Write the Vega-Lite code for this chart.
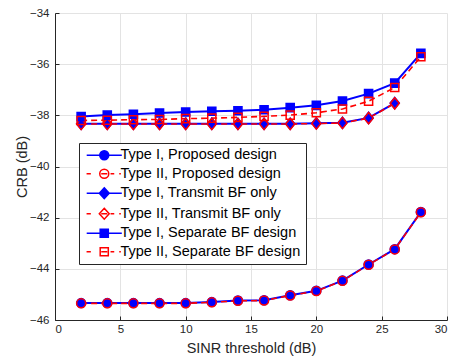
{
  "$schema": "https://vega.github.io/schema/vega-lite/v6.json",
  "width": 392,
  "height": 307,
  "autosize": {"type": "none"},
  "padding": {"left": 55, "top": 13, "right": 5, "bottom": 40},
  "background": "white",
  "config": {
    "view": {"stroke": null},
    "font": "Liberation Sans",
    "axis": {
      "domainColor": "#262626",
      "domainWidth": 1,
      "tickColor": "#262626",
      "tickSize": -4,
      "labelColor": "#262626",
      "labelFont": "Liberation Sans",
      "labelFontSize": 11.5,
      "titleColor": "#262626",
      "titleFont": "Liberation Sans",
      "titleFontSize": 14.5,
      "titleFontWeight": "normal",
      "gridColor": "#e3e3e3",
      "gridWidth": 1
    }
  },
  "data": {
    "values": [
      {"series": "Type I, Proposed design", "x": 2, "y": -45.34},
      {"series": "Type I, Proposed design", "x": 4, "y": -45.34},
      {"series": "Type I, Proposed design", "x": 6, "y": -45.34},
      {"series": "Type I, Proposed design", "x": 8, "y": -45.34},
      {"series": "Type I, Proposed design", "x": 10, "y": -45.34},
      {"series": "Type I, Proposed design", "x": 12, "y": -45.30},
      {"series": "Type I, Proposed design", "x": 14, "y": -45.24},
      {"series": "Type I, Proposed design", "x": 16, "y": -45.23},
      {"series": "Type I, Proposed design", "x": 18, "y": -45.03},
      {"series": "Type I, Proposed design", "x": 20, "y": -44.86},
      {"series": "Type I, Proposed design", "x": 22, "y": -44.46},
      {"series": "Type I, Proposed design", "x": 24, "y": -43.83},
      {"series": "Type I, Proposed design", "x": 26, "y": -43.23},
      {"series": "Type I, Proposed design", "x": 28, "y": -41.78},
      {"series": "Type II, Proposed design", "x": 2, "y": -45.35},
      {"series": "Type II, Proposed design", "x": 4, "y": -45.35},
      {"series": "Type II, Proposed design", "x": 6, "y": -45.35},
      {"series": "Type II, Proposed design", "x": 8, "y": -45.35},
      {"series": "Type II, Proposed design", "x": 10, "y": -45.35},
      {"series": "Type II, Proposed design", "x": 12, "y": -45.31},
      {"series": "Type II, Proposed design", "x": 14, "y": -45.25},
      {"series": "Type II, Proposed design", "x": 16, "y": -45.24},
      {"series": "Type II, Proposed design", "x": 18, "y": -45.04},
      {"series": "Type II, Proposed design", "x": 20, "y": -44.87},
      {"series": "Type II, Proposed design", "x": 22, "y": -44.47},
      {"series": "Type II, Proposed design", "x": 24, "y": -43.84},
      {"series": "Type II, Proposed design", "x": 26, "y": -43.24},
      {"series": "Type II, Proposed design", "x": 28, "y": -41.79},
      {"series": "Type I, Transmit BF only", "x": 2, "y": -38.33},
      {"series": "Type I, Transmit BF only", "x": 4, "y": -38.33},
      {"series": "Type I, Transmit BF only", "x": 6, "y": -38.33},
      {"series": "Type I, Transmit BF only", "x": 8, "y": -38.33},
      {"series": "Type I, Transmit BF only", "x": 10, "y": -38.33},
      {"series": "Type I, Transmit BF only", "x": 12, "y": -38.33},
      {"series": "Type I, Transmit BF only", "x": 14, "y": -38.33},
      {"series": "Type I, Transmit BF only", "x": 16, "y": -38.33},
      {"series": "Type I, Transmit BF only", "x": 18, "y": -38.33},
      {"series": "Type I, Transmit BF only", "x": 20, "y": -38.31},
      {"series": "Type I, Transmit BF only", "x": 22, "y": -38.29},
      {"series": "Type I, Transmit BF only", "x": 24, "y": -38.10},
      {"series": "Type I, Transmit BF only", "x": 26, "y": -37.52},
      {"series": "Type II, Transmit BF only", "x": 2, "y": -38.34},
      {"series": "Type II, Transmit BF only", "x": 4, "y": -38.34},
      {"series": "Type II, Transmit BF only", "x": 6, "y": -38.34},
      {"series": "Type II, Transmit BF only", "x": 8, "y": -38.34},
      {"series": "Type II, Transmit BF only", "x": 10, "y": -38.34},
      {"series": "Type II, Transmit BF only", "x": 12, "y": -38.34},
      {"series": "Type II, Transmit BF only", "x": 14, "y": -38.34},
      {"series": "Type II, Transmit BF only", "x": 16, "y": -38.34},
      {"series": "Type II, Transmit BF only", "x": 18, "y": -38.34},
      {"series": "Type II, Transmit BF only", "x": 20, "y": -38.32},
      {"series": "Type II, Transmit BF only", "x": 22, "y": -38.30},
      {"series": "Type II, Transmit BF only", "x": 24, "y": -38.11},
      {"series": "Type II, Transmit BF only", "x": 26, "y": -37.53},
      {"series": "Type I, Separate BF design", "x": 2, "y": -38.05},
      {"series": "Type I, Separate BF design", "x": 4, "y": -37.99},
      {"series": "Type I, Separate BF design", "x": 6, "y": -37.96},
      {"series": "Type I, Separate BF design", "x": 8, "y": -37.91},
      {"series": "Type I, Separate BF design", "x": 10, "y": -37.87},
      {"series": "Type I, Separate BF design", "x": 12, "y": -37.84},
      {"series": "Type I, Separate BF design", "x": 14, "y": -37.82},
      {"series": "Type I, Separate BF design", "x": 16, "y": -37.78},
      {"series": "Type I, Separate BF design", "x": 18, "y": -37.70},
      {"series": "Type I, Separate BF design", "x": 20, "y": -37.61},
      {"series": "Type I, Separate BF design", "x": 22, "y": -37.44},
      {"series": "Type I, Separate BF design", "x": 24, "y": -37.15},
      {"series": "Type I, Separate BF design", "x": 26, "y": -36.74},
      {"series": "Type I, Separate BF design", "x": 28, "y": -35.58},
      {"series": "Type II, Separate BF design", "x": 2, "y": -38.20},
      {"series": "Type II, Separate BF design", "x": 4, "y": -38.19},
      {"series": "Type II, Separate BF design", "x": 6, "y": -38.17},
      {"series": "Type II, Separate BF design", "x": 8, "y": -38.16},
      {"series": "Type II, Separate BF design", "x": 10, "y": -38.13},
      {"series": "Type II, Separate BF design", "x": 12, "y": -38.11},
      {"series": "Type II, Separate BF design", "x": 14, "y": -38.08},
      {"series": "Type II, Separate BF design", "x": 16, "y": -38.04},
      {"series": "Type II, Separate BF design", "x": 18, "y": -37.99},
      {"series": "Type II, Separate BF design", "x": 20, "y": -37.90},
      {"series": "Type II, Separate BF design", "x": 22, "y": -37.75},
      {"series": "Type II, Separate BF design", "x": 24, "y": -37.45},
      {"series": "Type II, Separate BF design", "x": 26, "y": -36.91},
      {"series": "Type II, Separate BF design", "x": 28, "y": -35.71}
    ]
  },
  "encoding": {
    "x": {
      "field": "x", "type": "quantitative",
      "scale": {"domain": [0, 30], "nice": false},
      "axis": {"values": [0, 5, 10, 15, 20, 25, 30], "title": "SINR threshold (dB)", "labelPadding": 7, "titlePadding": 7, "grid": true}
    },
    "y": {
      "field": "y", "type": "quantitative",
      "scale": {"domain": [-46, -34], "nice": false, "zero": false},
      "axis": {"values": [-46, -44, -42, -40, -38, -36, -34], "title": "CRB (dB)", "labelPadding": 10, "titlePadding": 0, "grid": true}
    }
  },
  "layer": [
    {
      "transform": [{"filter": "indexof(datum.series, 'Type I,') == 0"}],
      "mark": {"type": "line", "strokeWidth": 2, "clip": false},
      "encoding": {
        "color": {
          "field": "series", "type": "nominal",
          "scale": {
            "domain": ["Type I, Proposed design", "Type II, Proposed design", "Type I, Transmit BF only", "Type II, Transmit BF only", "Type I, Separate BF design", "Type II, Separate BF design"],
            "range": ["#0000ff", "#ff0000", "#0000ff", "#ff0000", "#0000ff", "#ff0000"]
          },
          "legend": {
            "title": null,
            "orient": "none",
            "legendX": 24,
            "legendY": 130,
            "padding": 5,
            "rowPadding": 2.5,
            "strokeColor": "#262626",
            "fillColor": "white",
            "labelFont": "Liberation Sans",
            "labelFontSize": 14.5,
            "labelColor": "#000000",
            "labelLimit": 400,
            "symbolSize": 81,
            "symbolStrokeWidth": 1.5,
            "symbolOpacity": 1,
            "symbolOffset": 13,
            "labelOffset": 9
          }
        }
      }
    },
    {
      "transform": [{"filter": "indexof(datum.series, 'Type II,') == 0"}],
      "mark": {"type": "line", "strokeWidth": 1.6, "strokeDash": [6, 4], "clip": false},
      "encoding": {
        "color": {
          "field": "series", "type": "nominal",
          "scale": {
            "domain": ["Type I, Proposed design", "Type II, Proposed design", "Type I, Transmit BF only", "Type II, Transmit BF only", "Type I, Separate BF design", "Type II, Separate BF design"],
            "range": ["#0000ff", "#ff0000", "#0000ff", "#ff0000", "#0000ff", "#ff0000"]
          }
        }
      }
    },
    {
      "transform": [{"filter": "datum.x < 0"}],
      "mark": {"type": "point", "opacity": 1},
      "encoding": {
        "shape": {
          "field": "series", "type": "nominal",
          "scale": {
            "domain": ["Type I, Proposed design", "Type II, Proposed design", "Type I, Transmit BF only", "Type II, Transmit BF only", "Type I, Separate BF design", "Type II, Separate BF design"],
            "range": [
              "M-3.9,0L3.9,0M1,0A1,1,0,1,1,-1,0A1,1,0,1,1,1,0Z",
              "M-3.93,0L-2.98,0M-0.67,0L0.67,0M1.4,0L2.22,0M3.33,0L3.69,0M1,0A1,1,0,1,1,-1,0A1,1,0,1,1,1,0Z",
              "M-3.9,0L3.9,0M0,-1.2L1.1,0L0,1.2L-1.1,0Z",
              "M-3.93,0L-2.98,0M-0.67,0L0.67,0M1.4,0L2.22,0M3.33,0L3.69,0M0,-1.2L1.1,0L0,1.2L-1.1,0Z",
              "M-3.9,0L3.9,0M-0.9,-0.9L0.9,-0.9L0.9,0.9L-0.9,0.9Z",
              "M-3.93,0L-2.98,0M-0.67,0L0.67,0M1.4,0L2.22,0M3.33,0L3.69,0M-0.9,-0.9L0.9,-0.9L0.9,0.9L-0.9,0.9Z"
            ]
          }
        },
        "fill": {
          "field": "series", "type": "nominal",
          "scale": {
            "domain": ["Type I, Proposed design", "Type II, Proposed design", "Type I, Transmit BF only", "Type II, Transmit BF only", "Type I, Separate BF design", "Type II, Separate BF design"],
            "range": ["#0000ff", "transparent", "#0000ff", "transparent", "#0000ff", "transparent"]
          }
        }
      }
    },
    {
      "transform": [{"filter": "indexof(datum.series, 'Proposed') >= 0"}],
      "mark": {"type": "point", "shape": "M1,0A1,1,0,1,1,-1,0A1,1,0,1,1,1,0Z", "size": 81, "strokeWidth": 1.5, "opacity": 1, "clip": false},
      "encoding": {
        "stroke": {
          "field": "series", "type": "nominal",
          "scale": {
            "domain": ["Type I, Proposed design", "Type II, Proposed design", "Type I, Transmit BF only", "Type II, Transmit BF only", "Type I, Separate BF design", "Type II, Separate BF design"],
            "range": ["#0000ff", "#ff0000", "#0000ff", "#ff0000", "#0000ff", "#ff0000"]
          }
        },
        "fill": {"field": "series", "type": "nominal"}
      }
    },
    {
      "transform": [{"filter": "indexof(datum.series, 'Transmit') >= 0"}],
      "mark": {"type": "point", "shape": "M0,-1.25L1,0L0,1.25L-1,0Z", "size": 81, "strokeWidth": 1.5, "opacity": 1, "clip": false},
      "encoding": {
        "stroke": {"field": "series", "type": "nominal"},
        "fill": {"field": "series", "type": "nominal"}
      }
    },
    {
      "transform": [{"filter": "indexof(datum.series, 'Separate') >= 0"}],
      "mark": {"type": "point", "shape": "M-0.9,-0.9H0.9V0.9H-0.9Z", "size": 81, "strokeWidth": 1.5, "opacity": 1, "clip": false},
      "encoding": {
        "stroke": {"field": "series", "type": "nominal"},
        "fill": {"field": "series", "type": "nominal"}
      }
    }
  ]
}
